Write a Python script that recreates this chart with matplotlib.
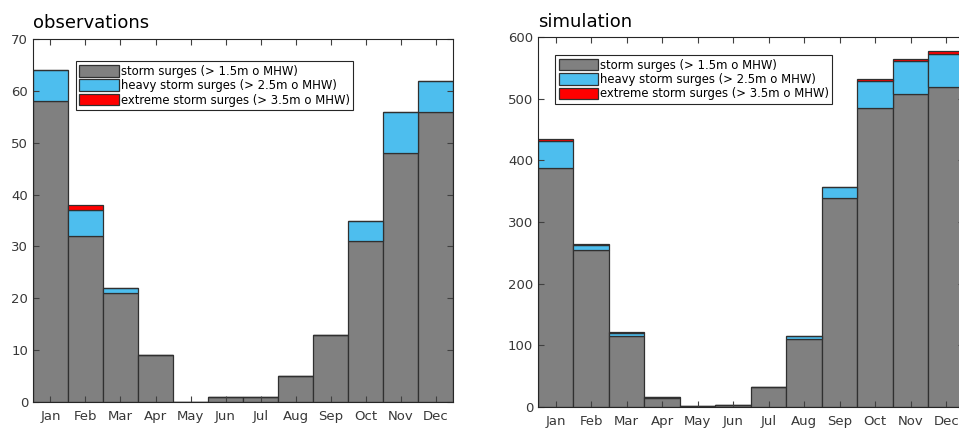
import numpy as np
import matplotlib.pyplot as plt
from matplotlib.patches import Patch

months = ['Jan', 'Feb', 'Mar', 'Apr', 'May', 'Jun', 'Jul', 'Aug', 'Sep', 'Oct', 'Nov', 'Dec']

# counts per month for each surge class (stacked segments)
obs_storm = [58, 32, 21, 9, 0, 1, 1, 5, 13, 31, 48, 56]
obs_heavy = [6, 5, 1, 0, 0, 0, 0, 0, 0, 4, 8, 6]
obs_extreme = [0, 1, 0, 0, 0, 0, 0, 0, 0, 0, 0, 0]

sim_storm = [388, 255, 115, 15, 2, 4, 32, 110, 339, 485, 507, 519]
sim_heavy = [44, 8, 5, 1, 0, 0, 0, 5, 18, 43, 54, 53]
sim_extreme = [3, 2, 2, 1, 0, 0, 0, 0, 0, 4, 3, 5]

labels = ['storm surges (> 1.5m o MHW)',
          'heavy storm surges (> 2.5m o MHW)',
          'extreme storm surges (> 3.5m o MHW)']
colors = ['#808080', '#4DBEEE', '#FF0000']
edge = '#303030'
tick_col = '#404040'

plt.rcParams['font.family'] = ['DejaVu Sans']


def stacked(ax, storm, heavy, extreme, ymax, ystep, title, pad):
    x = np.arange(len(months))
    storm = np.array(storm)
    heavy = np.array(heavy)
    extreme = np.array(extreme)
    ax.bar(x, storm, width=1.0, color=colors[0], edgecolor=edge, linewidth=0.9)
    ax.bar(x, heavy, bottom=storm, width=1.0, color=colors[1], edgecolor=edge, linewidth=0.9)
    ax.bar(x, extreme, bottom=storm + heavy, width=1.0, color=colors[2], edgecolor=edge, linewidth=0.9)
    ax.set_xlim(-0.5, len(months) - 0.5)
    ax.set_ylim(0, ymax)
    ax.set_xticks(x)
    ax.set_xticklabels(months)
    ax.set_yticks(np.arange(0, ymax + 1, ystep))
    ax.tick_params(direction='in', top=True, right=True, length=4, width=0.8,
                   colors=tick_col, labelsize=9.5, labelcolor='#383838')
    ax.tick_params(axis='x', pad=6)
    for s in ax.spines.values():
        s.set_color('#262626')
        s.set_linewidth(0.8)
    ax.set_title(title, loc='left', fontsize=13, pad=pad)
    handles = [Patch(facecolor=c, edgecolor=edge, linewidth=0.9) for c in colors]
    return handles


def add_legend(ax, handles, anchor):
    leg = ax.legend(handles, labels, loc='upper left', bbox_to_anchor=anchor,
                    fontsize=8.4, handlelength=3.4, handleheight=1.15, labelspacing=0.12,
                    borderpad=0.3, handletextpad=0.15, borderaxespad=0,
                    fancybox=False, framealpha=1, edgecolor='#262626')
    leg.get_frame().set_linewidth(0.8)


fig = plt.figure(figsize=(9.59, 4.28), dpi=100)
ax1 = fig.add_axes([0.0344, 0.0607, 0.438, 0.848])
ax2 = fig.add_axes([0.561, 0.049, 0.4442, 0.8645])

h = stacked(ax1, obs_storm, obs_heavy, obs_extreme, 70, 10, 'observations', 8)
add_legend(ax1, h, (0.102, 0.939))

h = stacked(ax2, sim_storm, sim_heavy, sim_extreme, 600, 100, 'simulation', 7)
add_legend(ax2, h, (0.04, 0.951))

plt.savefig('out.png', dpi=100)
